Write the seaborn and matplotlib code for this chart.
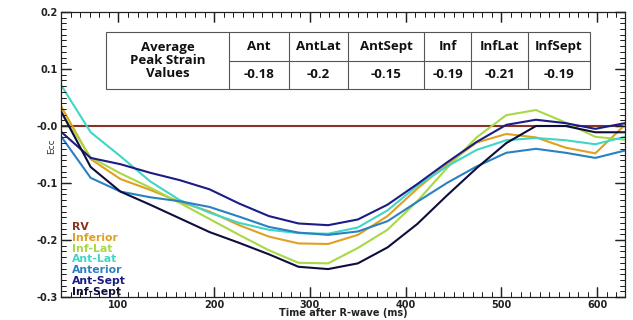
import numpy as np
import pandas as pd
import matplotlib
matplotlib.use("Agg")
import matplotlib.pyplot as plt
from matplotlib.ticker import MultipleLocator
import seaborn as sns

# ---------------- data ----------------
time_ms = [40, 71, 102, 133, 164, 195, 226, 257, 288, 319,
           350, 381, 412, 443, 474, 505, 536, 567, 598, 629]

rv = [0.0] * 20
inferior = [0.035, -0.058, -0.093, -0.112, -0.133, -0.150, -0.174, -0.194, -0.206, -0.207,
            -0.191, -0.158, -0.110, -0.067, -0.029, -0.014, -0.020, -0.038, -0.048, 0.002]
inf_lat = [0.025, -0.055, -0.083, -0.108, -0.135, -0.163, -0.191, -0.218, -0.240, -0.241,
           -0.214, -0.182, -0.132, -0.074, -0.020, 0.019, 0.028, 0.006, -0.019, -0.024]
ant_lat = [0.072, -0.011, -0.053, -0.097, -0.130, -0.152, -0.170, -0.182, -0.188, -0.189,
           -0.178, -0.148, -0.105, -0.071, -0.042, -0.025, -0.021, -0.025, -0.032, -0.019]
anterior = [-0.018, -0.091, -0.115, -0.125, -0.132, -0.142, -0.159, -0.177, -0.187, -0.191,
            -0.185, -0.167, -0.133, -0.100, -0.071, -0.047, -0.040, -0.047, -0.056, -0.043]
ant_sept = [-0.010, -0.056, -0.067, -0.082, -0.095, -0.111, -0.136, -0.158, -0.171, -0.174,
            -0.164, -0.138, -0.102, -0.064, -0.028, 0.002, 0.011, 0.005, -0.005, 0.005]
inf_sept = [0.026, -0.072, -0.115, -0.138, -0.162, -0.186, -0.205, -0.225, -0.247, -0.251,
            -0.241, -0.213, -0.172, -0.122, -0.074, -0.030, 0.000, 0.000, -0.011, -0.011]

series_names = ["RV", "Inferior", "Inf-Lat", "Ant-Lat", "Anterior", "Ant-Sept", "Inf-Sept"]
series_values = [rv, inferior, inf_lat, ant_lat, anterior, ant_sept, inf_sept]
series_colors = ["#8B3226", "#E0A021", "#A9D845", "#3FD6C6", "#2B80C2", "#1C1C86", "#0E0E3C"]

table_header = ["Ant", "AntLat", "AntSept", "Inf", "InfLat", "InfSept"]
table_values = ["-0.18", "-0.2", "-0.15", "-0.19", "-0.21", "-0.19"]
table_title = "Average\nPeak Strain\nValues"

x_ticks = [100, 200, 300, 400, 500, 600]
y_ticks = [-0.3, -0.2, -0.1, 0.0, 0.1, 0.2]
y_tick_labels = ["-0.3", "-0.2", "-0.1", "-0.0", "0.1", "0.2"]

# ---------------- build frame ----------------
rows = []
for name, vals in zip(series_names, series_values):
    for t, v in zip(time_ms, vals):
        rows.append({"time": t, "ecc": v, "region": name})
df = pd.DataFrame(rows)
palette = dict(zip(series_names, series_colors))

sns.set_theme(style="ticks")
plt.rcParams["font.family"] = ["DejaVu Sans"]

fig = plt.figure(figsize=(6.33, 3.20), dpi=100)
ax = fig.add_axes([61 / 633, 1 - 297 / 320, 564 / 633, 285 / 320])

sns.lineplot(data=df, x="time", y="ecc", hue="region", hue_order=series_names,
             palette=palette, linewidth=1.5, legend=False, ax=ax, sort=False)

ax.set_xlim(40, 629)
ax.set_ylim(-0.3, 0.2)
ax.set_xlabel("Time after R-wave (ms)", fontsize=7, fontweight="bold", labelpad=-1, color="#222222")
ax.set_ylabel("")
ax.text(-0.016, 0.53, "Ecc", transform=ax.transAxes, rotation=90, fontsize=6.5,
        ha="center", va="center", color="#333333")

# legend as coloured text
for i, (name, col) in enumerate(zip(series_names, series_colors)):
    ax.text(0.0195, 0.2456 - i * 0.0379, name, transform=ax.transAxes, color=col,
            fontsize=7.8, fontweight="bold", ha="left", va="center")

# table of average peak strain values
tl, tr = 0.0798, 0.938
tt, tm, tb = 0.930, 0.828, 0.730
col_edges = [tl, 0.2979, 0.4043, 0.5089, 0.6436, 0.727, 0.828, tr]
lc = "#555555"
ax.add_patch(plt.Rectangle((tl, tb), tr - tl, tt - tb, transform=ax.transAxes,
                           facecolor="white", edgecolor=lc, linewidth=0.8, zorder=5))
for xe in col_edges[1:-1]:
    ax.plot([xe, xe], [tb, tt], transform=ax.transAxes, color=lc, lw=0.8, zorder=6)
ax.plot([col_edges[1], tr], [tm, tm], transform=ax.transAxes, color=lc, lw=0.8, zorder=6)
tfont = ["Open Sans", "DejaVu Sans"]
ax.text((col_edges[0] + col_edges[1]) / 2, (tt + tb) / 2, table_title, transform=ax.transAxes,
        ha="center", va="center", fontsize=9.5, fontweight="bold", family=tfont,
        linespacing=1.0, zorder=7, color="#111111")
for i in range(6):
    cx = (col_edges[i + 1] + col_edges[i + 2]) / 2
    ax.text(cx, (tt + tm) / 2, table_header[i], transform=ax.transAxes, ha="center",
            va="center", fontsize=9.5, fontweight="bold", family=tfont, zorder=7, color="#111111")
    ax.text(cx, (tm + tb) / 2, table_values[i], transform=ax.transAxes, ha="center",
            va="center", fontsize=9.5, fontweight="bold", family=tfont, zorder=7, color="#111111")

# axes, ticks and spines
ax.set_xticks(x_ticks)
ax.set_xticklabels([str(v) for v in x_ticks], fontweight="bold", color="#222222")
ax.set_yticks(y_ticks)
ax.set_yticklabels(y_tick_labels, fontweight="bold", color="#222222")
ax.xaxis.set_minor_locator(MultipleLocator(10))
ax.yaxis.set_minor_locator(MultipleLocator(0.01))
ax.tick_params(which="major", direction="in", bottom=True, left=True, top=True, right=True,
               length=7, width=0.9, color="k", labelsize=7, pad=2)
ax.tick_params(which="minor", direction="in", bottom=True, left=True, top=True, right=True,
               length=3.5, width=0.7, color="k")

# inward tick marks drawn at the locator positions on all four sides
xmaj = [v for v in ax.xaxis.get_majorticklocs() if 40 <= v <= 629]
xmin = [v for v in ax.xaxis.get_minorticklocs() if 40 <= v <= 629]
ymaj = [v for v in ax.yaxis.get_majorticklocs() if -0.3 <= v <= 0.2]
ymin = [v for v in ax.yaxis.get_minorticklocs() if -0.3 <= v <= 0.2]
xt = ax.get_xaxis_transform()
yt = ax.get_yaxis_transform()
Lx_maj, Lx_min = 9.7 / 285, 4.9 / 285
Ly_maj, Ly_min = 9.7 / 564, 4.9 / 564
tk = dict(colors="#222222", zorder=8, clip_on=False)
ax.vlines(xmaj, 0, Lx_maj, transform=xt, linewidth=0.9, **tk)
ax.vlines(xmaj, 1 - Lx_maj, 1, transform=xt, linewidth=0.9, **tk)
ax.vlines(xmin, 0, Lx_min, transform=xt, linewidth=0.7, **tk)
ax.vlines(xmin, 1 - Lx_min, 1, transform=xt, linewidth=0.7, **tk)
ax.hlines(ymaj, 0, Ly_maj, transform=yt, linewidth=0.9, **tk)
ax.hlines(ymaj, 1 - Ly_maj, 1, transform=yt, linewidth=0.9, **tk)
ax.hlines(ymin, 0, Ly_min, transform=yt, linewidth=0.7, **tk)
ax.hlines(ymin, 1 - Ly_min, 1, transform=yt, linewidth=0.7, **tk)

ax.set_xlim(40, 629)
ax.set_ylim(-0.3, 0.2)
for sp in ax.spines.values():
    sp.set_visible(True)
    sp.set_edgecolor("#222222")
    sp.set_linewidth(0.9)

fig.savefig("out.png", dpi=100)
